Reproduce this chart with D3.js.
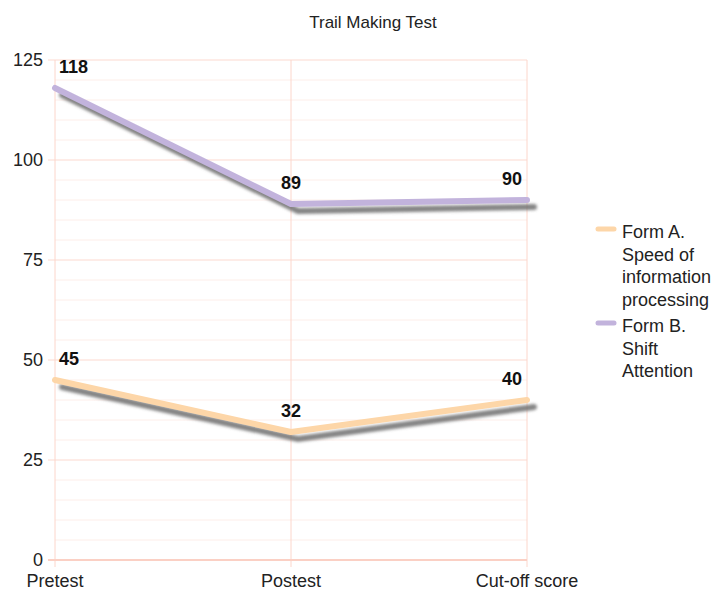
<!DOCTYPE html>
<html>
<head>
<meta charset="utf-8">
<script src="https://cdn.jsdelivr.net/npm/d3@7"></script>
<style>
  body { margin: 0; background: #fff; }
  text { font-family: "Liberation Sans", Arial, sans-serif; }
</style>
</head>
<body>
<svg id="chart"></svg>
<script>
const width = 711;
const height = 590;

const categories = ["Pretest", "Postest", "Cut-off score"];
const formA = [45, 32, 40];
const formB = [118, 89, 90];
const seriesNames = [
  ["Form A.", "Speed of", "information", "processing"],
  ["Form B.", "Shift", "Attention"]
];
const seriesColors = ["#fdd6a8", "#c2b3dc"];
const yTicks = [0, 25, 50, 75, 100, 125];

const margin = { left: 55, right: 184, top: 60, bottom: 30 };

const svg = d3.select("#chart")
  .attr("width", width)
  .attr("height", height);

const x = d3.scalePoint()
  .domain(categories)
  .range([margin.left, width - margin.right]);

const y = d3.scaleLinear()
  .domain([0, 125])
  .range([height - margin.bottom, margin.top]);

const defs = svg.append("defs");
defs.append("filter")
  .attr("id", "blur")
  .attr("x", "-10%").attr("y", "-50%")
  .attr("width", "120%").attr("height", "200%")
  .append("feGaussianBlur")
  .attr("stdDeviation", 1.8);

// minor grid every 5
svg.append("g")
  .selectAll("line")
  .data(d3.range(5, 125, 5).filter(v => v % 25 !== 0))
  .enter()
  .append("line")
  .attr("x1", margin.left)
  .attr("x2", width - margin.right)
  .attr("y1", d => y(d))
  .attr("y2", d => y(d))
  .attr("stroke", "#fdeee9")
  .attr("stroke-width", 1);

// major grid
svg.append("g")
  .selectAll("line")
  .data(yTicks.filter(v => v > 0))
  .enter()
  .append("line")
  .attr("x1", margin.left - 7)
  .attr("x2", width - margin.right)
  .attr("y1", d => y(d))
  .attr("y2", d => y(d))
  .attr("stroke", "#fcd9cf")
  .attr("stroke-width", 1);

// vertical category lines
svg.append("g")
  .selectAll("line")
  .data(categories)
  .enter()
  .append("line")
  .attr("x1", d => x(d))
  .attr("x2", d => x(d))
  .attr("y1", y(125))
  .attr("y2", y(0) + 7)
  .attr("stroke", "#fcd6cb")
  .attr("stroke-width", 1);

// zero axis line
svg.append("line")
  .attr("x1", margin.left - 7)
  .attr("x2", width - margin.right)
  .attr("y1", y(0))
  .attr("y2", y(0))
  .attr("stroke", "#fbd0c4")
  .attr("stroke-width", 2);

// y tick labels
svg.append("g")
  .selectAll("text")
  .data(yTicks)
  .enter()
  .append("text")
  .attr("x", margin.left - 12)
  .attr("y", d => y(d))
  .attr("dy", "0.35em")
  .attr("text-anchor", "end")
  .style("font-size", "18px")
  .style("fill", "#222")
  .text(d => d);

// x labels
svg.append("g")
  .selectAll("text")
  .data(categories)
  .enter()
  .append("text")
  .attr("x", d => x(d))
  .attr("y", height - 3)
  .attr("text-anchor", "middle")
  .style("font-size", "18px")
  .style("fill", "#222")
  .text(d => d);

// title
svg.append("text")
  .attr("x", 373)
  .attr("y", 28)
  .attr("text-anchor", "middle")
  .style("font-size", "17px")
  .style("fill", "#222")
  .text("Trail Making Test");

const line = d3.line()
  .x((d, i) => x(categories[i]))
  .y(d => y(d));

const series = [formA, formB];

// shadows
series.forEach(values => {
  svg.append("path")
    .datum(values)
    .attr("d", line)
    .attr("fill", "none")
    .attr("stroke", "#6f6f6f")
    .attr("stroke-opacity", 0.85)
    .attr("stroke-width", 6)
    .attr("stroke-linecap", "round")
    .attr("transform", "translate(7,7)")
    .attr("filter", "url(#blur)");
});

series.forEach((values, s) => {
  svg.append("path")
    .datum(values)
    .attr("d", line)
    .attr("fill", "none")
    .attr("stroke", seriesColors[s])
    .attr("stroke-width", 6)
    .attr("stroke-linecap", "round")
    .attr("stroke-linejoin", "round");
});

// value labels (kept inside plot area)
const last = categories.length - 1;
series.forEach(values => {
  svg.append("g")
    .selectAll("text")
    .data(values)
    .enter()
    .append("text")
    .attr("x", (d, i) => i === 0 ? x(categories[i]) + 4 : i === last ? x(categories[i]) - 5 : x(categories[i]))
    .attr("y", d => y(d) - 15)
    .attr("text-anchor", (d, i) => i === 0 ? "start" : i === last ? "end" : "middle")
    .style("font-size", "18px")
    .style("font-weight", "bold")
    .style("fill", "#111")
    .text(d => d);
});

// legend
const legend = svg.append("g").attr("transform", "translate(622,0)");
const legendTop = [238, 332];
seriesNames.forEach((lines, s) => {
  const g = legend.append("g").attr("transform", `translate(0,${legendTop[s]})`);
  g.append("line")
    .attr("x1", -19).attr("x2", -2)
    .attr("y1", -2).attr("y2", -2)
    .attr("stroke", "#6f6f6f")
    .attr("stroke-width", 5)
    .attr("stroke-linecap", "round")
    .attr("filter", "url(#blur)");
  g.append("line")
    .attr("x1", -24).attr("x2", -8)
    .attr("y1", -9).attr("y2", -9)
    .attr("stroke", seriesColors[s])
    .attr("stroke-width", 5)
    .attr("stroke-linecap", "round");
  g.selectAll("text")
    .data(lines)
    .enter()
    .append("text")
    .attr("x", 0)
    .attr("y", (d, i) => i * 22.5)
    .style("font-size", "18px")
    .style("fill", "#222")
    .text(d => d);
});
</script>
</body>
</html>
